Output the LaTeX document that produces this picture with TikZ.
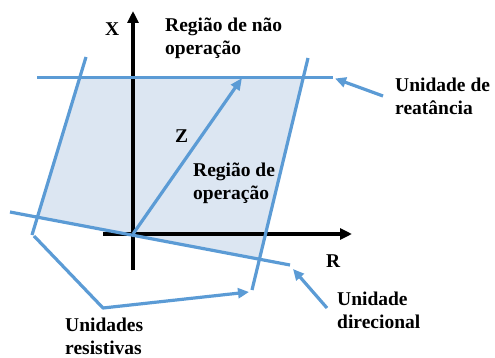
\documentclass[tikz,border=0pt]{standalone}
\usepackage{fontspec}
\setmainfont{Liberation Serif}
\usetikzlibrary{arrows.meta}
\definecolor{lineblue}{HTML}{5B9BD5}
\definecolor{fillblue}{HTML}{DCE6F2}
\begin{document}
\begin{tikzpicture}[x=1pt,y=-1pt,
  lbl/.style={inner sep=0pt,anchor=base west,align=left,font=\fontsize{19.5}{23}\selectfont\bfseries},
  axis/.style={line width=3.2pt,black,-{Triangle[length=12pt,width=11pt]}},
  unit/.style={line width=3.2pt,lineblue},
  pointer/.style={line width=3.2pt,lineblue,line join=round,{Triangle[length=11pt,width=10pt]}-},
]
\useasboundingbox (0,0) rectangle (495,358);
% fill region corners
\coordinate (fTL) at (79.9,77.3);
\coordinate (fTR) at (303.4,77.3);
\coordinate (fBR) at (259.4,259.2);
\coordinate (fBL) at (37.4,217.2);
\fill[fillblue] (fTL) -- (fTR) -- (fBR) -- (fBL) -- cycle;
% axes
\coordinate (O) at (133,234);
\coordinate (xb) at (133,270);
\coordinate (xt) at (133,11);
\coordinate (rl) at (103,234);
\coordinate (rt) at (352,234);
\draw[axis] (xb) -- (xt);
\draw[axis] (rl) -- (rt);
% unit lines
\coordinate (reaL) at (37,77.3);
\coordinate (reaR) at (333,77.3);
\coordinate (lT) at (86,57);
\coordinate (lB) at (32,235);
\coordinate (rT) at (308,58);
\coordinate (rB) at (252,290);
\coordinate (dL) at (10,212);
\coordinate (dR) at (290,265);
\draw[unit] (reaL) -- (reaR);
\draw[unit] (lT) -- (lB);
\draw[unit] (rT) -- (rB);
\draw[unit] (dL) -- (dR);
% impedance
\coordinate (zt) at (242,78);
\draw[unit,-{Triangle[length=12pt,width=10pt]}] (O) -- (zt);
% labels
\node[lbl] (labX) at (105,36) {X};
\node[lbl] (labNop) at (165,55) {Região de não\\operação};
\node[lbl] (labRea) at (395,115) {Unidade de\\reatância};
\node[lbl] (labZ) at (175,143) {Z};
\node[lbl] (labOp) at (193,200) {Região de\\operação};
\node[lbl] (labR) at (326,267) {R};
\node[lbl] (labDir) at (337,328) {Unidade\\direcional};
\node[lbl] (labRes) at (65,354) {Unidades\\resistivas};
% pointers
\coordinate (pRea) at (383,96);
\coordinate (tRea) at (335,78.5);
\draw[pointer] (tRea) -- (pRea);
\coordinate (pDir) at (327,308);
\coordinate (tDir) at (293,269);
\draw[pointer] (tDir) -- (pDir);
\coordinate (pRes) at (103,308);
\coordinate (tResL) at (34,236);
\coordinate (tResR) at (249,292);
\draw[pointer,-{Triangle[length=11pt,width=10pt]}] (tResL) -- (pRes) -- (tResR);
\end{tikzpicture}
\end{document}
